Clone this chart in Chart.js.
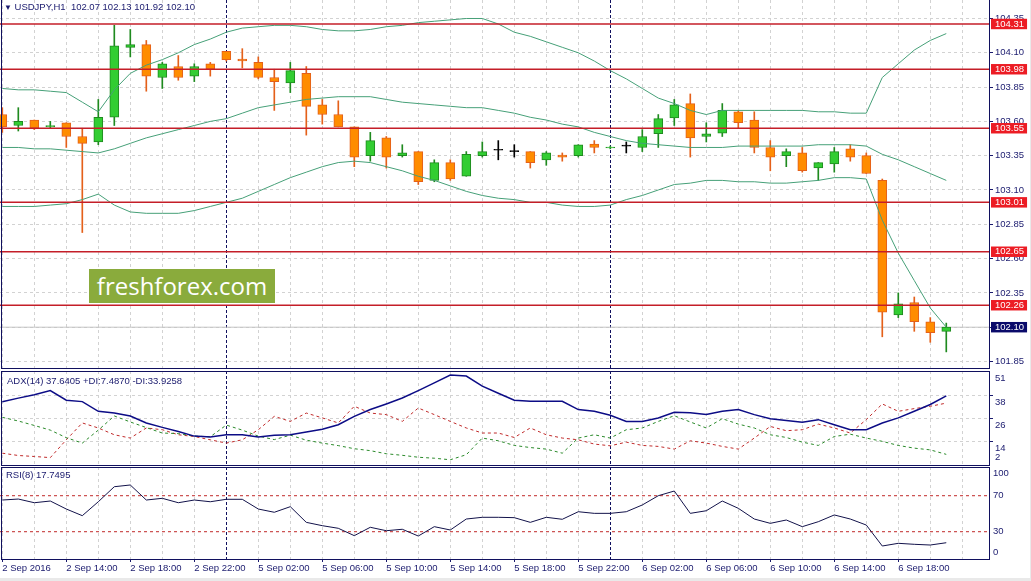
<!DOCTYPE html>
<html>
<head>
<meta charset="utf-8">
<script src="https://cdn.jsdelivr.net/npm/chart.js@4.4.1/dist/chart.umd.min.js"></script>
<style>
  body { margin: 0; background: #e9e9e9; }
  #wrap { position: relative; width: 1030px; height: 578px; background: #fff; overflow: hidden; }
  .box { position: absolute; left: 0; width: 1030px; }
  .frame { position: absolute; left: 1px; width: 989px; border: 1px solid #10105e; box-sizing: border-box; pointer-events: none; }
  .lbl { position: absolute; font: 9.5px "Liberation Sans", Arial, sans-serif; color: #1a1a6e; white-space: pre; }
  #wm { position: absolute; left: 89px; top: 269px; width: 186px; height: 34px; background: #8aab3c;
        color: #fff; font: 24px "Open Sans", sans-serif; line-height: 33px; text-align: center; }
</style>
</head>
<body>
<div id="wrap">
  <div class="box" style="top:0;height:369px"><canvas id="main"></canvas></div>
  <div class="box" style="top:369px;height:98px"><canvas id="adx"></canvas></div>
  <div class="box" style="top:467px;height:111px"><canvas id="rsi"></canvas></div>
  <div class="frame" style="top:-2px;height:371px"></div>
  <div class="frame" style="top:371px;height:95px"></div>
  <div class="frame" style="top:467px;height:93px"></div>
  <div class="lbl" style="left:4px;top:1px"><span style="font-size:8px">▼</span> USDJPY,H1  102.07 102.13 101.92 102.10</div>
  <div class="lbl" style="left:7px;top:375px">ADX(14) 37.6405 +DI:7.4870 -DI:33.9258</div>
  <div class="lbl" style="left:6px;top:469px">RSI(8) 17.7495</div>
  <div id="wm">freshforex.com</div>
</div>
<script>
// USDJPY H1, 2 Sep 10:00 .. 6 Sep 21:00
const open = [103.65, 103.57, 103.61, 103.56, 103.59, 103.49, 103.45, 103.63, 104.14, 104.16,
  103.92, 104.00, 103.93, 104.02, 104.11, 104.055, 104.03, 103.92, 103.88, 103.95,
  103.72, 103.65, 103.56, 103.35, 103.48, 103.35, 103.38, 103.17, 103.30, 103.20,
  103.35, 103.39, 103.38, 103.38, 103.32, 103.355, 103.35, 103.435, 103.406, 103.42,
  103.41, 103.51, 103.625, 103.73, 103.49, 103.515, 103.67, 103.61, 103.41, 103.35,
  103.37, 103.26, 103.29, 103.40, 103.35, 103.17, 102.19, 102.28, 102.14, 102.07];
const high = [103.70, 103.70, 103.61, 103.60, 103.59, 103.55, 103.76, 104.30, 104.27, 104.19,
  104.03, 104.08, 104.02, 104.03, 104.11, 104.13, 104.07, 103.98, 104.03, 104.00,
  103.76, 103.75, 103.56, 103.52, 103.49, 103.43, 103.38, 103.32, 103.32, 103.38,
  103.45, 103.46, 103.43, 103.38, 103.38, 103.37, 103.43, 103.46, 103.42, 103.45,
  103.54, 103.65, 103.76, 103.80, 103.59, 103.73, 103.68, 103.67, 103.46, 103.40,
  103.41, 103.30, 103.41, 103.43, 103.37, 103.18, 102.35, 102.32, 102.17, 102.13];
const low = [103.52, 103.53, 103.54, 103.55, 103.41, 102.79, 103.43, 103.57, 104.07, 103.82,
  103.84, 103.90, 103.89, 103.93, 104.04, 103.99, 103.91, 103.68, 103.81, 103.50,
  103.58, 103.56, 103.27, 103.31, 103.26, 103.34, 103.14, 103.16, 103.17, 103.20,
  103.34, 103.32, 103.34, 103.26, 103.28, 103.31, 103.34, 103.37, 103.40, 103.37,
  103.38, 103.41, 103.57, 103.34, 103.45, 103.49, 103.55, 103.37, 103.24, 103.27,
  103.23, 103.17, 103.23, 103.31, 103.22, 102.03, 102.17, 102.07, 101.99, 101.92];
const close = [103.56, 103.60, 103.55, 103.57, 103.49, 103.44, 103.63, 104.15, 104.16, 103.93,
  104.02, 103.92, 104.00, 103.98, 104.05, 104.04, 103.92, 103.89, 103.97, 103.71,
  103.65, 103.56, 103.34, 103.46, 103.34, 103.37, 103.16, 103.30, 103.18, 103.36,
  103.38, 103.39, 103.38, 103.30, 103.37, 103.34, 103.43, 103.41, 103.413, 103.42,
  103.49, 103.62, 103.72, 103.48, 103.51, 103.68, 103.59, 103.41, 103.34, 103.38,
  103.24, 103.30, 103.38, 103.34, 103.22, 102.21, 102.27, 102.14, 102.06, 102.10];

const bbUpper = [103.84, 103.83, 103.83, 103.82, 103.81, 103.74, 103.67, 103.83, 103.95, 104.01,
  104.05, 104.10, 104.16, 104.20, 104.25, 104.28, 104.29, 104.30, 104.30, 104.29,
  104.27, 104.26, 104.26, 104.27, 104.29, 104.30, 104.32, 104.33, 104.34, 104.35,
  104.35, 104.31, 104.25, 104.22, 104.18, 104.14, 104.10, 104.04, 103.97, 103.91,
  103.84, 103.77, 103.73, 103.68, 103.65, 103.68, 103.68, 103.68, 103.68, 103.68,
  103.68, 103.67, 103.67, 103.66, 103.66, 103.92, 104.02, 104.12, 104.19, 104.24];
const bbMiddle = [103.41, 103.41, 103.40, 103.40, 103.39, 103.38, 103.37, 103.40, 103.44, 103.48,
  103.51, 103.54, 103.57, 103.60, 103.62, 103.66, 103.70, 103.72, 103.74, 103.76,
  103.77, 103.78, 103.78, 103.78, 103.76, 103.74, 103.73, 103.72, 103.71, 103.70,
  103.70, 103.68, 103.66, 103.63, 103.61, 103.58, 103.56, 103.52, 103.49, 103.46,
  103.44, 103.43, 103.42, 103.41, 103.41, 103.41, 103.42, 103.42, 103.42, 103.42,
  103.42, 103.43, 103.43, 103.43, 103.42, 103.36, 103.32, 103.27, 103.22, 103.17];
const bbLower = [102.98, 102.98, 102.98, 102.99, 103.00, 103.03, 103.07, 102.99, 102.94, 102.93,
  102.93, 102.93, 102.95, 102.98, 103.01, 103.04, 103.09, 103.14, 103.19, 103.23,
  103.27, 103.30, 103.31, 103.30, 103.27, 103.24, 103.20, 103.17, 103.13, 103.09,
  103.06, 103.04, 103.03, 103.01, 103.01, 102.99, 102.98, 102.98, 102.99, 103.03,
  103.06, 103.10, 103.14, 103.15, 103.17, 103.17, 103.16, 103.16, 103.15, 103.15,
  103.16, 103.17, 103.19, 103.19, 103.18, 102.88, 102.64, 102.44, 102.24, 102.10];

const adx = [34.6, 36.5, 38.3, 40.4, 35.4, 34.7, 29.7, 28.8, 27.3, 23.7,
  21.4, 19.3, 16.9, 16.4, 17.6, 17.6, 16.4, 17.3, 17.6, 19.0,
  20.5, 22.8, 27.1, 30.6, 33.5, 36.6, 40.4, 44.4, 48.4, 47.9,
  42.7, 39.0, 35.4, 34.9, 34.9, 34.9, 30.6, 29.7, 27.7, 24.5,
  24.5, 26.3, 29.2, 28.9, 28.0, 29.7, 30.6, 28.0, 25.9, 24.9,
  24.0, 25.4, 22.8, 20.2, 20.2, 23.7, 26.3, 29.7, 33.2, 37.64];
const plusDI = [26.6, 24.7, 22.4, 20.0, 16.1, 13.3, 20.0, 27.3, 24.2, 21.3,
  18.5, 18.2, 16.9, 16.6, 22.6, 20.0, 16.9, 15.1, 17.4, 14.8,
  13.3, 12.0, 10.4, 9.4, 7.8, 7.0, 6.0, 5.5, 4.7, 7.3,
  15.9, 14.5, 12.1, 11.0, 10.2, 8.1, 15.9, 17.6, 15.9, 20.2,
  21.1, 24.5, 27.4, 24.2, 21.1, 25.9, 23.1, 21.1, 17.6, 16.2,
  13.8, 12.1, 16.7, 17.9, 15.9, 14.2, 12.1, 10.7, 9.8, 7.49];
const minusDI = [8.1, 6.9, 6.4, 5.8, 15.0, 23.7, 21.1, 17.6, 15.9, 21.1,
  20.2, 17.6, 16.7, 15.0, 13.3, 15.0, 20.2, 27.1, 24.5, 28.8,
  26.3, 23.7, 32.3, 28.8, 28.0, 24.5, 31.4, 28.0, 24.5, 21.1,
  18.5, 18.5, 16.2, 21.1, 17.6, 15.9, 15.0, 12.8, 11.9, 13.8,
  12.1, 11.6, 10.2, 14.5, 13.3, 11.6, 10.2, 15.9, 21.9, 19.7,
  20.2, 23.1, 21.1, 18.5, 25.4, 33.5, 29.7, 31.1, 32.3, 33.93];
const rsi = [65.2, 66.3, 62.2, 64.1, 55.2, 47.8, 63.3, 80.0, 81.9, 65.2,
  67.1, 62.2, 65.2, 63.3, 66.0, 66.0, 55.2, 51.6, 57.8, 40.4,
  36.7, 33.8, 25.6, 34.9, 31.1, 32.7, 25.2, 35.6, 31.9, 44.1,
  46.0, 46.0, 45.6, 40.4, 46.0, 43.8, 52.2, 50.4, 50.4, 52.2,
  59.7, 70.0, 75.2, 50.4, 53.3, 64.1, 56.0, 44.1, 39.3, 43.0,
  35.6, 41.1, 48.6, 44.1, 37.4, 14.1, 17.1, 16.0, 15.2, 17.75];

const levels = [104.31, 103.98, 103.55, 103.01, 102.65, 102.26];
const lastPrice = 102.10;
const rsiLevels = [70, 30];

const priceTicks = [104.35, 104.10, 103.85, 103.60, 103.35, 103.10, 102.85, 102.60, 102.35, 102.10, 101.85];
const adxTickValues = [50.5, 38, 26, 14, 9.3];
const adxTickLabels = ['51', '38', '26', '14', '2'];
const rsiTickValues = [95.2, 70, 30, 7.4];
const rsiTickLabels = ['100', '70', '30', '0'];
const xLabels = ['2 Sep 2016', '2 Sep 14:00', '2 Sep 18:00', '2 Sep 22:00', '5 Sep 02:00',
  '5 Sep 06:00', '5 Sep 10:00', '5 Sep 14:00', '5 Sep 18:00', '5 Sep 22:00',
  '6 Sep 02:00', '6 Sep 06:00', '6 Sep 10:00', '6 Sep 14:00', '6 Sep 18:00'];
const daySeparators = [14, 38];

const X_MIN = -0.144, X_MAX = 61.67;
const NAVY = '#1a1a6e';
const GRID = '#d2d2d2';
const FONT = { family: "'Liberation Sans', Arial, sans-serif", size: 9.5, lineHeight: 1.1 };

const gridBars = [];
for (let i = 0; i <= 60; i += 2) gridBars.push(i);

function pts(arr) {
  return arr.map((v, i) => ({ x: i, y: v }));
}
function flat(v) {
  return [{ x: X_MIN, y: v }, { x: X_MAX, y: v }];
}
function pick(i, up, down, doji) {
  if (close[i] > open[i]) return up;
  if (close[i] < open[i]) return down;
  return doji;
}
// fixed right axis, no automatic label padding
function fitY(s) {
  s.width = 41;
  s.paddingTop = 0;
  s.paddingBottom = 0;
}

function xAxis(withLabels) {
  const isSep = c => c.tick && daySeparators.includes(c.tick.value);
  return {
    type: 'linear', min: X_MIN, max: X_MAX, offset: false, bounds: 'data',
    afterBuildTicks: s => { s.ticks = gridBars.map(v => ({ value: v })); },
    afterFit: s => {
      s.height = withLabels ? 19 : 0;
      s.paddingLeft = 0;
      s.paddingRight = 0;
    },
    grid: {
      offset: false,
      color: c => isSep(c) ? '#10105e' : GRID,
      drawTicks: withLabels,
      tickLength: 3,
      tickColor: c => (c.tick && c.tick.value % 4 === 0 && c.tick.value <= 56) ? NAVY : 'rgba(0,0,0,0)'
    },
    border: { display: false, dash: c => isSep(c) ? [3, 2] : [3, 3] },
    ticks: {
      display: withLabels, autoSkip: false, maxRotation: 0, align: 'start', padding: 1,
      color: NAVY, font: FONT,
      callback: v => (v % 4 === 0 && v / 4 < xLabels.length) ? xLabels[v / 4] : ''
    }
  };
}

const common = {
  responsive: true, maintainAspectRatio: false, animation: false, events: [],
  plugins: { legend: { display: false }, tooltip: { enabled: false } }
};

// price panel
const levelTicks = levels.concat([lastPrice]);
new Chart(document.getElementById('main'), {
  type: 'bar',
  data: {
    datasets: [
      ...levels.map(v => ({
        type: 'line', data: flat(v), borderColor: '#c41e28', borderWidth: 1.5, pointRadius: 0, order: 0
      })),
      { type: 'line', data: pts(bbUpper), borderColor: '#46a078', borderWidth: 1, pointRadius: 0, order: 1 },
      { type: 'line', data: pts(bbMiddle), borderColor: '#46a078', borderWidth: 1, pointRadius: 0, order: 1 },
      { type: 'line', data: pts(bbLower), borderColor: '#46a078', borderWidth: 1, pointRadius: 0, order: 1 },
      {
        type: 'bar', data: open.map((o, i) => ({ x: i, y: [o, close[i]] })),
        backgroundColor: open.map((o, i) => pick(i, '#32cd32', '#ff8c00', '#000')),
        borderColor: open.map((o, i) => pick(i, '#1f8a1f', '#e4601a', '#000')),
        borderWidth: 1, borderSkipped: false, barThickness: 9, minBarLength: 1, grouped: false, order: 3
      },
      {
        type: 'bar', data: low.map((l, i) => ({ x: i, y: [l, high[i]] })),
        backgroundColor: open.map((o, i) => pick(i, '#1f8a1f', '#e4601a', '#000')),
        barThickness: 1, grouped: false, order: 4
      },
      { type: 'line', data: flat(lastPrice), borderColor: '#c4c4c4', borderWidth: 1, pointRadius: 0, order: 5 }
    ]
  },
  options: {
    ...common,
    layout: { padding: { top: 0, bottom: 1, left: 0, right: 0 } },
    scales: {
      x: xAxis(false),
      y: {
        position: 'right', min: 101.8026, max: 104.4848, bounds: 'data',
        afterFit: fitY,
        afterBuildTicks: s => { s.ticks = priceTicks.concat(levelTicks).map(v => ({ value: v })); },
        grid: {
          color: c => c.index < priceTicks.length ? GRID : 'rgba(0,0,0,0)',
          tickLength: 4,
          tickColor: c => c.index < priceTicks.length ? NAVY : 'rgba(0,0,0,0)'
        },
        border: { display: false, dash: [3, 3] },
        ticks: {
          autoSkip: false, padding: 2, font: FONT,
          callback: v => v.toFixed(2),
          color: c => c.index < priceTicks.length ? NAVY : '#fff',
          showLabelBackdrop: c => c.index >= priceTicks.length,
          backdropColor: c => c.index === priceTicks.length + levels.length ? '#0a0a6a' : '#ec1c24',
          backdropPadding: { left: 4, right: 3, top: 0, bottom: 0 }
        }
      }
    }
  }
});

// ADX panel
new Chart(document.getElementById('adx'), {
  type: 'line',
  data: {
    datasets: [
      { data: pts(adx), borderColor: '#0c0c86', borderWidth: 1.5, pointRadius: 0 },
      { data: pts(plusDI), borderColor: '#2b8a2b', borderWidth: 1, borderDash: [3, 3], pointRadius: 0 },
      { data: pts(minusDI), borderColor: '#c02a2a', borderWidth: 1, borderDash: [3, 3], pointRadius: 0 }
    ]
  },
  options: {
    ...common,
    layout: { padding: { top: 2, bottom: 2, left: 0, right: 0 } },
    scales: {
      x: xAxis(false),
      y: {
        position: 'right', min: 2, max: 50.5, bounds: 'data',
        afterFit: fitY,
        afterBuildTicks: s => { s.ticks = adxTickValues.map(v => ({ value: v })); },
        grid: {
          color: c => (c.index > 0 && c.index < 4) ? GRID : 'rgba(0,0,0,0)',
          tickLength: 4,
          tickColor: c => (c.index > 0 && c.index < 4) ? NAVY : 'rgba(0,0,0,0)'
        },
        border: { display: false, dash: [3, 3] },
        ticks: {
          autoSkip: false, padding: 2, font: FONT, color: NAVY, labelOffset: 7,
          callback: (v, i) => adxTickLabels[i]
        }
      }
    }
  }
});

// RSI panel
new Chart(document.getElementById('rsi'), {
  type: 'line',
  data: {
    datasets: [
      { data: pts(rsi), borderColor: '#12124a', borderWidth: 1, pointRadius: 0 },
      ...rsiLevels.map(v => ({
        data: flat(v), borderColor: '#c02a2a', borderWidth: 1, borderDash: [3, 3], pointRadius: 0
      }))
    ]
  },
  options: {
    ...common,
    layout: { padding: { top: 0, bottom: 0, left: 0, right: 0 } },
    scales: {
      x: xAxis(true),
      y: {
        position: 'right', min: -0.33, max: 101.9, bounds: 'data',
        afterFit: fitY,
        afterBuildTicks: s => { s.ticks = rsiTickValues.map(v => ({ value: v })); },
        grid: { display: false, drawTicks: false },
        border: { display: false },
        ticks: {
          autoSkip: false, padding: 4, font: FONT, color: NAVY,
          callback: (v, i) => rsiTickLabels[i]
        }
      }
    }
  }
});
</script>
</body>
</html>
